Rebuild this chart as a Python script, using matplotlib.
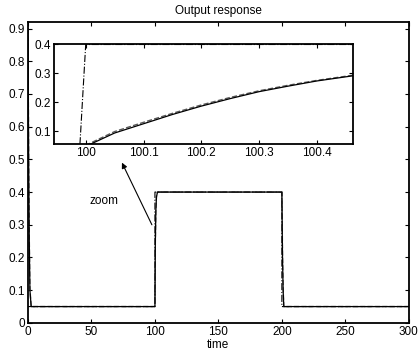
from matplotlib import pyplot as plt
import numpy as np

plt.rcParams['font.family'] = ['Liberation Sans', 'DejaVu Sans']
plt.rcParams['font.size'] = 8.5

# main response (solid) and model response (dashed)
t_main = [0, 0.5, 1, 1.5, 2.5, 100, 100.3, 100.7, 101.2, 102, 200, 200.5, 201, 201.5, 300]
y_solid = [0.9, 0.5, 0.25, 0.1, 0.05, 0.05, 0.24, 0.34, 0.385, 0.4, 0.4, 0.2, 0.1, 0.05, 0.05]
y_dashed = [0.9, 0.5, 0.26, 0.105, 0.05, 0.05, 0.245, 0.345, 0.388, 0.4, 0.4, 0.21, 0.105, 0.05, 0.05]

# reference step (dash-dot)
t_ref = [0, 99.99, 100.0, 199.99, 200.0, 300]
y_ref = [0.05, 0.05, 0.4, 0.4, 0.05, 0.05]

# zoomed detail around t = 100
t_zoom = [100.0, 100.01, 100.05, 100.1, 100.15, 100.2, 100.25, 100.3, 100.35, 100.4, 100.47]
y_zoom_solid = [0.05, 0.057, 0.094, 0.126, 0.158, 0.187, 0.213, 0.237, 0.256, 0.274, 0.294]
y_zoom_dashed = [0.05, 0.061, 0.099, 0.131, 0.162, 0.191, 0.217, 0.240, 0.259, 0.276, 0.296]
t_zoom_ref = [99.99, 100.0, 100.47]
y_zoom_ref = [0.055, 0.4, 0.4]

fig = plt.figure(figsize=(4.18, 3.6), dpi=100)
ax = fig.add_axes([0.067, 0.103, 0.911, 0.836])
ax.plot(t_ref, y_ref, color='k', linestyle='-.', linewidth=0.8)
ax.plot(t_main, y_dashed, color='0.35', linestyle='--', linewidth=1.0)
ax.plot(t_main, y_solid, color='k', linewidth=0.9)
ax.set_xlim(0, 300)
ax.set_ylim(0, 0.92)
ax.set_xticks([0, 50, 100, 150, 200, 250, 300])
ax.set_yticks(np.arange(0, 1.0, 0.1))
ax.set_yticklabels(['0', '0.1', '0.2', '0.3', '0.4', '0.5', '0.6', '0.7', '0.8', '0.9'])
ax.set_title('Output response', fontsize=8.5, pad=6)
ax.set_xlabel('time', labelpad=1)
ax.tick_params(direction='in', top=True, right=True, length=3, pad=2)
for s in ax.spines.values():
    s.set_linewidth(1.3)

# arrow pointing from the step up toward the zoomed view
ax.annotate('', xy=(74, 0.49), xytext=(97.6, 0.30),
            arrowprops=dict(arrowstyle='-|>', color='k', lw=0.8, mutation_scale=8,
                            shrinkA=0, shrinkB=0))
ax.text(59.5, 0.372, 'zoom', ha='center', va='center')

ins = fig.add_axes([0.129, 0.6, 0.715, 0.278])
ins.plot(t_zoom_ref, y_zoom_ref, color='k', linestyle='-.', linewidth=0.8)
ins.plot(t_zoom, y_zoom_dashed, color='0.35', linestyle='--', linewidth=1.0)
ins.plot(t_zoom, y_zoom_solid, color='k', linewidth=0.9)
ins.set_xlim(99.945, 100.462)
ins.set_ylim(0.056, 0.402)
ins.set_xticks([100, 100.1, 100.2, 100.3, 100.4])
ins.set_xticklabels(['100', '100.1', '100.2', '100.3', '100.4'])
ins.set_yticks([0.1, 0.2, 0.3, 0.4])
ins.set_yticklabels(['0.1', '0.2', '0.3', '0.4'])
ins.tick_params(direction='in', top=True, right=True, length=3, pad=2)
for s in ins.spines.values():
    s.set_linewidth(1.3)

plt.savefig('out.png', dpi=100)
